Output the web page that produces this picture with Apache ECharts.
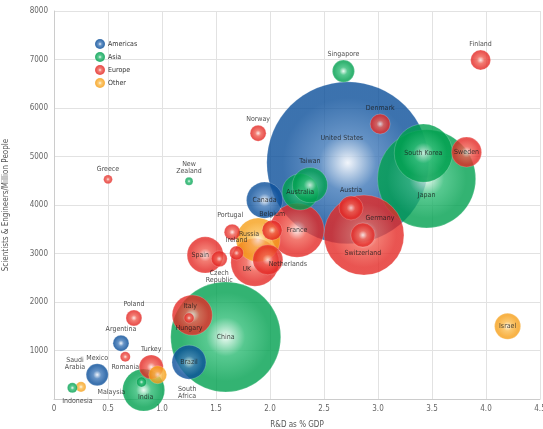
<!DOCTYPE html>
<html style="height: 100%">
<head>
  <meta charset="UTF-8">
  <title>R&D vs Scientists</title>
  <script src="https://cdn.jsdelivr.net/npm/echarts@6/dist/echarts.min.js"></script>
  <style>
    body { margin: 0; height: 100%; background: #fff; }
    #main { width: 543px; height: 429px; }
  </style>
</head>
<body>
  <div id="main"></div>
  <script>
    // R&D as % of GDP, scientists & engineers per million people, R&D spend (US$ bn, bubble area)
    const countries = ['United States', 'China', 'Japan', 'Germany', 'South Korea', 'France', 'United Kingdom',
      'Russia', 'India', 'Italy', 'Canada', 'Spain', 'Australia', 'Taiwan', 'Brazil', 'Sweden', 'Netherlands',
      'Israel', 'Turkey', 'Austria', 'Switzerland', 'Singapore', 'Mexico', 'Denmark', 'Finland', 'Belgium',
      'South Africa', 'Norway', 'Portugal', 'Poland', 'Argentina', 'Czech Republic', 'Ireland', 'Romania',
      'Hungary', 'Malaysia', 'Saudi Arabia', 'Indonesia', 'Greece', 'New Zealand'];
    const labels = ['United States', 'China', 'Japan', 'Germany', 'South Korea', 'France', 'UK',
      'Russia', 'India', 'Italy', 'Canada', 'Spain', 'Australia', 'Taiwan', 'Brazil', 'Sweden', 'Netherlands',
      'Israel', 'Turkey', 'Austria', 'Switzerland', 'Singapore', 'Mexico', 'Denmark', 'Finland', 'Belgium',
      'South\nAfrica', 'Norway', 'Portugal', 'Poland', 'Argentina', 'Czech\nRepublic', 'Ireland', 'Romania',
      'Hungary', 'Malaysia', 'Saudi\nArabia', 'Indonesia', 'Greece', 'New\nZealand'];
    const regions = ['Americas', 'Asia', 'Asia', 'Europe', 'Asia', 'Europe', 'Europe',
      'Other', 'Asia', 'Europe', 'Americas', 'Europe', 'Asia', 'Asia', 'Americas', 'Europe', 'Europe',
      'Other', 'Europe', 'Europe', 'Europe', 'Asia', 'Americas', 'Europe', 'Europe', 'Europe',
      'Other', 'Europe', 'Europe', 'Europe', 'Americas', 'Europe', 'Europe', 'Europe',
      'Europe', 'Asia', 'Other', 'Asia', 'Europe', 'Asia'];
    const rdPct = [2.72, 1.59, 3.45, 2.87, 3.42, 2.25, 1.86,
      1.89, 0.83, 1.28, 1.95, 1.40, 2.28, 2.37, 1.25, 3.82, 1.98,
      4.20, 0.90, 2.75, 2.86, 2.68, 0.40, 3.02, 3.95, 2.02,
      0.96, 1.89, 1.65, 0.74, 0.62, 1.53, 1.69, 0.66,
      1.25, 0.81, 0.25, 0.17, 0.50, 1.25];
    const sciPerMillion = [4870, 1280, 4540, 3380, 5070, 3480, 2820,
      3280, 185, 1730, 4100, 2970, 4270, 4410, 760, 5090, 2870,
      1500, 660, 3940, 3380, 6760, 500, 5670, 6990, 3480,
      500, 5480, 3440, 1670, 1150, 2890, 3010, 870,
      1670, 350, 250, 230, 4530, 4490];
    const spendBn = [340, 157, 125, 83, 44, 38, 30,
      25, 23, 21, 17, 17, 17, 16, 15, 11.7, 11.7,
      8.8, 7.5, 7.5, 7.5, 6.3, 6.3, 5.2, 5.2, 5.2,
      4.2, 3.3, 3.3, 3.3, 3.3, 3.3, 2.5, 1.3,
      1.3, 1.3, 1.3, 1.3, 1.0, 0.8];
    const legendNames = ['Americas', 'Asia', 'Europe', 'Other'];

    const palette = {
      Americas: ['#eef3fa', '#3f78b8', '#0b4f9a'],
      Asia: ['#eafaf1', '#2dbb74', '#00a04f'],
      Europe: ['#fde8e4', '#ef5a4e', '#e42a26'],
      Other: ['#fff6e0', '#fbbb4c', '#f6a01a']
    };
    function bubbleFill(region) {
      const c = palette[region];
      return {
        type: 'radial', x: 0.5, y: 0.5, r: 0.5,
        colorStops: [
          { offset: 0, color: c[0] },
          { offset: 0.35, color: c[1] },
          { offset: 0.8, color: c[2] },
          { offset: 1, color: c[2] }
        ]
      };
    }

    // label placement per country
    const labelPlace = {
      'United States': { position: 'inside', offset: [-6, -25] },
      'Japan': { position: 'inside', offset: [0, 16] },
      'Germany': { position: 'inside', offset: [16, -17] },
      'Switzerland': { position: 'bottom', distance: 2 },
      'Russia': { position: 'inside', offset: [-9, -6] },
      'United Kingdom': { position: 'inside', offset: [-8, 7] },
      'Netherlands': { position: 'inside', offset: [20, 4] },
      'Italy': { position: 'inside', offset: [-2, -9] },
      'India': { position: 'inside', offset: [2, 7] },
      'Spain': { position: 'inside', offset: [-5, 0] },
      'Hungary': { position: 'bottom', distance: 1 },
      'Romania': { position: 'bottom', distance: 1 },
      'Czech Republic': { position: 'bottom', distance: 2 },
      'Indonesia': { position: 'bottom', distance: 4, offset: [5, 0] },
      'Malaysia': { position: 'left', offset: [-6, 10] },
      'South Africa': { position: 'right', offset: [6, 18] },
      'Saudi Arabia': { position: 'top', offset: [-6, -6] },
      'Portugal': { position: 'top', offset: [-2, 0] },
      'Israel': { position: 'inside' },
      'Sweden': { position: 'inside' },
      'South Korea': { position: 'inside' },
      'France': { position: 'inside' },
      'China': { position: 'inside' },
      'Brazil': { position: 'inside' },
      'Canada': { position: 'inside' },
      'Australia': { position: 'inside' }
    };

    const items = countries.map((name, i) => {
      const place = labelPlace[name] || { position: 'top', distance: 2 };
      return {
        name: name,
        value: [rdPct[i], sciPerMillion[i], spendBn[i]],
        itemStyle: { color: bubbleFill(regions[i]), borderColor: 'rgba(255,255,255,0.3)', borderWidth: 0.8 },
        label: Object.assign({ show: true, formatter: labels[i] }, place)
      };
    }).sort((a, b) => b.value[2] - a.value[2]);

    const legendSeries = legendNames.map(r => ({
      name: r,
      type: 'scatter',
      data: [],
      itemStyle: { color: bubbleFill(r) }
    }));

    const chart = echarts.init(document.getElementById('main'));
    chart.setOption({
      animation: false,
      textStyle: { fontFamily: '"Liberation Sans Narrow", "DejaVu Sans Condensed", sans-serif' },
      legend: {
        orient: 'vertical',
        left: 90,
        top: 34,
        itemWidth: 10,
        itemHeight: 10,
        itemGap: 3,
        icon: 'circle',
        data: legendNames,
        textStyle: { fontSize: 7, color: '#333', padding: [0, 0, 0, -2] }
      },
      grid: { left: 54, right: 3, top: 11, bottom: 30, outerBoundsMode: 'none' },
      xAxis: {
        type: 'value', min: 0, max: 4.5, interval: 0.5,
        name: 'R&D as % GDP', nameLocation: 'middle', nameGap: 22,
        nameTextStyle: { fontSize: 8, color: '#555' },
        axisLine: { lineStyle: { color: '#ccc' } },
        axisTick: { show: false },
        axisLabel: {
          fontSize: 8, color: '#666', margin: 6,
          formatter: v => v === 0 ? '0' : v.toFixed(1)
        },
        splitLine: { lineStyle: { color: '#e2e2e2' } }
      },
      yAxis: {
        type: 'value', min: 0, max: 8000, interval: 1000,
        name: 'Scientists & Engineers/Million People', nameLocation: 'middle', nameGap: 44,
        nameTextStyle: { fontSize: 8, color: '#555' },
        axisLine: { show: true, lineStyle: { color: '#ccc' } },
        axisTick: { show: false },
        axisLabel: {
          fontSize: 8, color: '#666', margin: 6,
          formatter: v => v === 0 ? '' : String(v)
        },
        splitLine: { lineStyle: { color: '#e2e2e2' } }
      },
      series: legendSeries.concat([{
        name: 'countries',
        type: 'scatter',
        data: items,
        symbolSize: v => 2 * 4.39 * Math.sqrt(v[2]),
        label: { fontSize: 7, color: '#1a1a1a' },
        emphasis: { disabled: true }
      }])
    });
  </script>
</body>
</html>
